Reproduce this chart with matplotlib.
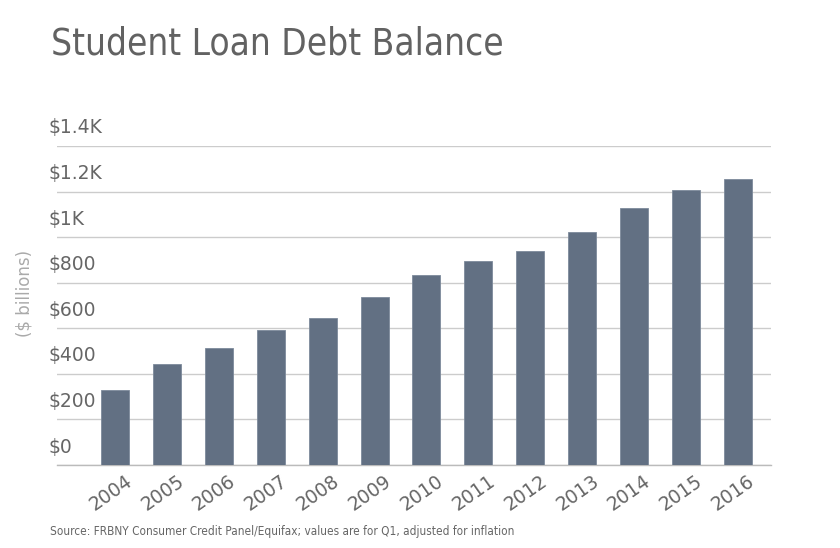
import matplotlib
matplotlib.use("Agg")
import matplotlib.pyplot as plt
import matplotlib.transforms as mtransforms
from matplotlib import font_manager as fm

years = ["2004", "2005", "2006", "2007", "2008", "2009", "2010",
         "2011", "2012", "2013", "2014", "2015", "2016"]
balance = [330, 443, 512, 592, 646, 738, 836, 896, 941, 1021, 1126, 1206, 1256]
yticks = [0, 200, 400, 600, 800, 1000, 1200, 1400]
ytick_labels = ["$0", "$200", "$400", "$600", "$800", "$1K", "$1.2K", "$1.4K"]

plt.rcParams['font.family'] = ['DejaVu Sans']
fig = plt.figure(figsize=(8.4, 5.48), dpi=100)
ax = fig.add_axes([57/840, 1-465/548, (771-57)/840, (465-146)/548])

x = list(range(len(years)))
ax.bar(x, balance, width=0.54, color="#627083", edgecolor="#7d8a9b", linewidth=0.6, zorder=3)

ax.set_ylim(0, 1400)
ax.set_xlim(-1.12, 12.64)
ax.set_yticks(yticks)
ax.yaxis.grid(True, color="#cccccc", linewidth=1.0, zorder=0)
ax.set_yticklabels([])
ax.tick_params(axis='y', length=0)
for s in ["top", "right", "left"]:
    ax.spines[s].set_visible(False)
ax.spines["bottom"].set_color("#bbbbbb")
ax.spines["bottom"].set_linewidth(1.0)

trans = mtransforms.blended_transform_factory(fig.transFigure, ax.transData)
offset = mtransforms.ScaledTranslation(0, 18/100, fig.dpi_scale_trans)
for v, lab in zip(yticks, ytick_labels):
    ax.text(48/840, v, lab, transform=trans + offset, ha='left', va='center',
            fontsize=13.5, color="#666666")

ax.set_xticks(x)
ax.set_xticklabels(years, rotation=35, ha='right', va='top', rotation_mode='anchor',
                   fontsize=13.5, color="#666666")
ax.tick_params(axis='x', length=0, pad=4.5)
xoff = mtransforms.ScaledTranslation(9.5/100, 0, fig.dpi_scale_trans)
for lbl in ax.get_xticklabels():
    lbl.set_transform(lbl.get_transform() + xoff)

# check for a condensed DejaVu face; otherwise scale the size down
has_cond = any('condensed' in f.fname.lower() and 'dejavu' in f.fname.lower()
               for f in fm.fontManager.ttflist)
if has_cond:
    title_kw = dict(fontsize=26.5, fontstretch='condensed')
    src_kw = dict(fontsize=8.5, fontstretch='condensed')
else:
    title_kw = dict(fontsize=23.6)
    src_kw = dict(fontsize=7.6)

fig.text(25/840, 1-293/548, "($ billions)", rotation=90, ha='center', va='center',
         fontsize=12, color="#aaaaaa")
fig.text(51/840, 1-44/548, "Student Loan Debt Balance", ha='left', va='center',
         color="#626262", **title_kw)
fig.text(50/840, 1-531/548,
         "Source: FRBNY Consumer Credit Panel/Equifax; values are for Q1, adjusted for inflation",
         ha='left', va='center', color="#666666", **src_kw)

fig.savefig("out.png", dpi=100)
